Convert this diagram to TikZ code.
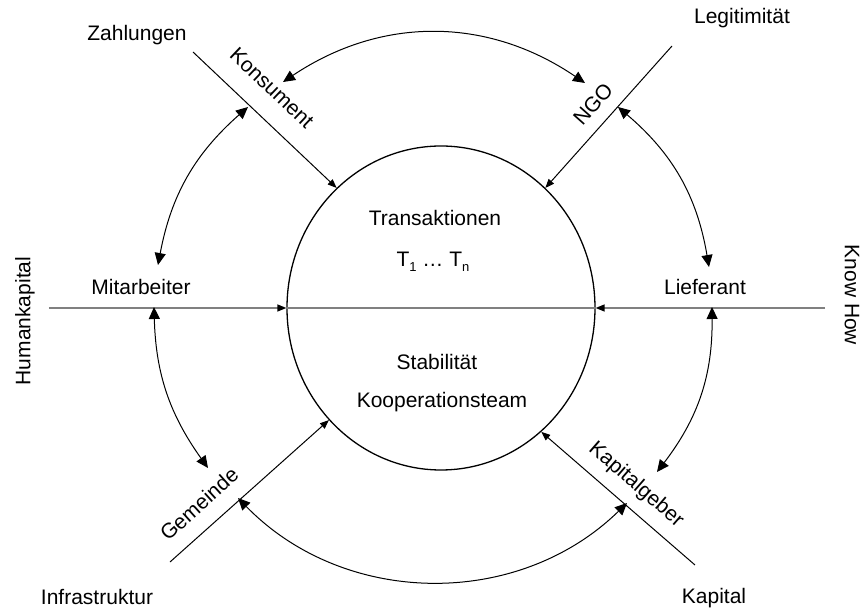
\documentclass[tikz,border=0pt]{standalone}
\usepackage{fontspec}
\setmainfont{Liberation Sans}
\usetikzlibrary{arrows.meta,shapes.geometric,positioning}

\begin{document}
\begin{tikzpicture}[x=1pt,y=1pt,line width=1pt,
  actor/.style={font=\fontsize{21}{25}\selectfont,inner sep=0pt},
  inflow/.style={-{Triangle[length=9pt,width=7pt,color=black]}},
  axis/.style={draw=black!50,line width=1.4pt},
  exchange/.style={{Triangle[length=12pt,width=11pt]}-{Triangle[length=12pt,width=11pt]}}]
\useasboundingbox (-441,-301) rectangle (422,308);

% the team in the middle
\node[draw,ellipse,minimum width=308pt,minimum height=324pt,line width=1.3pt] (core) at (0,0) {};
\node[actor] (trans) at (-6,90) {Transaktionen};
\node[actor] (tn) at (-8,46) {T\raisebox{-5pt}{\fontsize{13}{13}\selectfont 1} … T\raisebox{-5pt}{\fontsize{13}{13}\selectfont n}};
\node[actor] (stab) at (-4,-54) {Stabilität};
\node[actor] (koop) at (1,-94) {Kooperationsteam};

% resources
\node[actor] (zahlungen) at (-304,273) {Zahlungen};
\node[actor] (legitimitaet) at (301,290) {Legitimität};
\node[actor] (infrastruktur) at (-344,-289) {Infrastruktur};
\node[actor] (kapital) at (273,-290) {Kapital};
\node[actor,rotate=90] (humankapital) at (-416,-13) {Humankapital};
\node[actor,rotate=-90] (knowhow) at (411,13) {Know How};

% stakeholders
\node[actor] (mitarbeiter) at (-300,21) {Mitarbeiter};
\node[actor] (lieferant) at (264,21) {Lieferant};
\node[actor,rotate=-43.5] (konsument) at (-169,220) {Konsument};
\node[actor,rotate=48.5] (ngo) at (152,204) {NGO};
\node[actor,rotate=42] (gemeinde) at (-242,-196) {Gemeinde};
\node[actor,rotate=-41] (kapitalgeber) at (195,-177) {Kapitalgeber};

% inflows
\coordinate (human-end) at (-392,0);
\coordinate (know-end) at (384,0);
\draw[axis] (core.west) -- (core.east);
\draw[axis,inflow] (human-end) -- (core.west);
\draw[axis,inflow] (know-end) -- (core.east);
\coordinate (konsument-end) at (-248,256);
\coordinate (ngo-end) at (231,262);
\coordinate (gemeinde-end) at (-271,-254);
\coordinate (kapitalgeber-end) at (254,-257);
\draw[inflow] (konsument-end) -- (core.131);
\draw[inflow] (ngo-end) -- (core.49);
\draw[inflow] (gemeinde-end) -- (core.225);
\draw[inflow] (kapitalgeber-end) -- (core.309);

% exchanges round the ring
\coordinate (kon-ngo) at (-158,226);
\coordinate (ngo-kon) at (144,225);
\coordinate (kon-mit) at (-193,201);
\coordinate (mit-kon) at (-283,43);
\coordinate (mit-gem) at (-287,1);
\coordinate (gem-mit) at (-233,-160);
\coordinate (gem-kap) at (-203,-190);
\coordinate (kap-gem) at (186,-195);
\coordinate (lie-kap) at (271,1);
\coordinate (kap-lie) at (216,-164);
\coordinate (lie-ngo) at (268,41);
\coordinate (ngo-lie) at (177,201);
\draw[exchange] (kon-ngo) to[bend left=34] (ngo-kon);
\draw[exchange] (kon-mit) to[bend right=19] (mit-kon);
\draw[exchange] (mit-gem) to[bend right=17] (gem-mit);
\draw[exchange] (gem-kap) to[bend right=45] (kap-gem);
\draw[exchange] (lie-kap) to[bend left=19] (kap-lie);
\draw[exchange] (lie-ngo) to[bend right=20] (ngo-lie);
\end{tikzpicture}
\end{document}
